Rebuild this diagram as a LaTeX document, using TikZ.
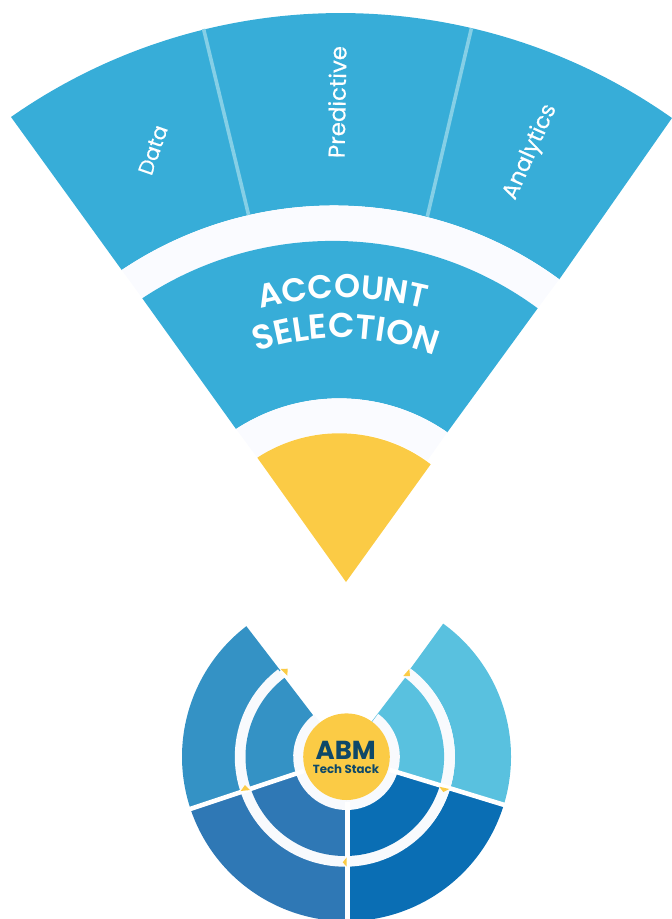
\documentclass[tikz,border=0pt]{standalone}
\usepackage{fontspec}
\setmainfont{Poppins}
\newfontfamily\fanfont[FakeBold=0.35]{Poppins}
\newfontfamily\acctfont{Poppins SemiBold}
\usetikzlibrary{svg.path,decorations.text}
\definecolor{fanblue}{HTML}{37ADD8}
\definecolor{pale}{HTML}{FAFBFF}
\definecolor{ringpale}{HTML}{F8FAFD}
\definecolor{gold}{HTML}{FBCB45}
\definecolor{divider}{HTML}{85CFE6}
\definecolor{seca}{HTML}{59C1DF}
\definecolor{secb}{HTML}{0A6EB4}
\definecolor{secc}{HTML}{2F78B5}
\definecolor{secd}{HTML}{3492C5}
\definecolor{abmtext}{HTML}{0E4868}
% wedge from the local centre: colour, start angle, end angle, radius
\newcommand{\wedgefill}[4]{%
  \fill[#1] (0,0) -- (#2:#4) arc[start angle=#2,end angle=#3,radius=#4] -- cycle;}
% outer band: colour, start angle, end angle
\newcommand{\bandfill}[3]{%
  \fill[#1] (#2:108.5) arc[start angle=#2,end angle=#3,radius=108.5] -- (#3:164.5) arc[start angle=#3,end angle=#2,radius=164.5] -- cycle;}
\tikzset{
  fanlabel/.style={text=white,inner sep=0pt},
  sepline/.style={white,line width=4.6pt},
  fandiv/.style={divider,line width=3.6pt},
  marker/.style={fill=gold}
}
\begin{document}
\begin{tikzpicture}[x=1pt,y=-1pt]
\useasboundingbox (0,0) rectangle (672,919);
\begin{scope}[yscale=-1]
\fill[fanblue] svg {M 11 117 A 575 575 0 0 1 672 118 L 559.3 279.3 A 381 381 0 0 0 121.7 270 Z};
\fill[pale] svg {M 121.7 270 A 381 381 0 0 1 559.3 279.3 L 537.7 308.3 A 345 345 0 0 0 142.3 298.3 Z};
\fill[fanblue] svg {M 142.3 298.3 A 345 345 0 0 1 537.7 308.3 L 447.3 432.3 A 189 189 0 0 0 236 429 Z};
\fill[pale] svg {M 236 429 A 189 189 0 0 1 447.3 432.3 L 427.3 460.7 A 150 150 0 0 0 257.3 457.7 Z};
\fill[gold] svg {M 257.3 457.7 A 150 150 0 0 1 430.7 464.3 L 346 582 Z};
\end{scope}
\coordinate (d1a) at (203.6,29);
\coordinate (d1b) at (248.6,215);
\coordinate (d2a) at (471.4,28.3);
\coordinate (d2b) at (427.3,216.7);
\draw[fandiv] (d1a) -- (d1b);
\draw[fandiv] (d2a) -- (d2b);
\node[fanlabel,font=\fanfont\fontsize{21}{25}\selectfont,rotate=71] (data) at (153,150) {Data};
\node[fanlabel,font=\fanfont\fontsize{22.9}{27}\selectfont,rotate=89] (pred) at (337,102) {Predictive};
\node[fanlabel,font=\fanfont\fontsize{22.4}{27}\selectfont,rotate=66] (anal) at (530.5,152) {Analytics};
\begin{scope}[shift={(343,631)},y=1pt]
\path[decorate,decoration={text along path,text align=center,text={|\acctfont\fontsize{33}{38}\selectfont\color{white}|ACCOUNT}}]
  (121:333) arc[start angle=121,end angle=59,radius=333];
\end{scope}
\begin{scope}[shift={(341,599)},y=1pt]
\path[decorate,decoration={text along path,text align=center,text={|\acctfont\fontsize{34.5}{40}\selectfont\color{white}|SELECTION}}]
  (128:261) arc[start angle=128,end angle=50,radius=261];
\end{scope}
% outer bands
\begin{scope}[shift={(346.5,756.7)},y=1pt]
\bandfill{seca}{54}{-17}
\bandfill{secb}{-17}{-90}
\bandfill{secc}{-90}{-161.5}
\bandfill{secd}{198.5}{127.5}
\end{scope}
% ring and inner wedges, centred a little to the left
\begin{scope}[shift={(344.8,756.7)},y=1pt]
\wedgefill{ringpale}{127.4}{413}{110}
\wedgefill{seca}{52.6}{-17}{99.3}
\wedgefill{secb}{-17}{-90}{99.3}
\wedgefill{secc}{-90}{-161.5}{99.3}
\wedgefill{secd}{198.5}{127.4}{99.3}
\end{scope}
\begin{scope}[shift={(346.5,756.7)},y=1pt]
\wedgefill{ringpale}{127.5}{413.5}{53.3}
\coordinate (s1a) at (-17:45); \coordinate (s1b) at (-17:166);
\coordinate (s2a) at (0.8,-45); \coordinate (s2b) at (0.8,-166);
\coordinate (s3a) at (198.5:45); \coordinate (s3b) at (198.5:166);
\draw[sepline] (s1a) -- (s1b);
\draw[sepline] (s2a) -- (s2b);
\draw[sepline] (s3a) -- (s3b);
\node[circle,fill=gold,minimum size=86.6pt,inner sep=0pt] (hub) at (0,0) {};
\end{scope}
\fill[marker] (280.7,669) -- (287.7,668.7) -- (287.3,675.7) -- cycle;
\fill[marker] (409.3,669) -- (403.3,676) -- (410,676) -- cycle;
\fill[marker] (245,785) -- (240.7,791) -- (250,790) -- cycle;
\fill[marker] (439.3,786.7) -- (449.3,789) -- (443.3,792) -- cycle;
\fill[marker] (346.7,857.3) -- (342.7,862.3) -- (346.7,866.7) -- cycle;
\node[text=abmtext,font=\fontsize{26}{30}\bfseries\selectfont,inner sep=0pt] (abm) at (345.7,750.7) {ABM};
\node[text=abmtext,font=\fontsize{11.8}{15}\bfseries\selectfont,inner sep=0pt] (tech) at (346,769) {Tech Stack};
\end{tikzpicture}
\end{document}
